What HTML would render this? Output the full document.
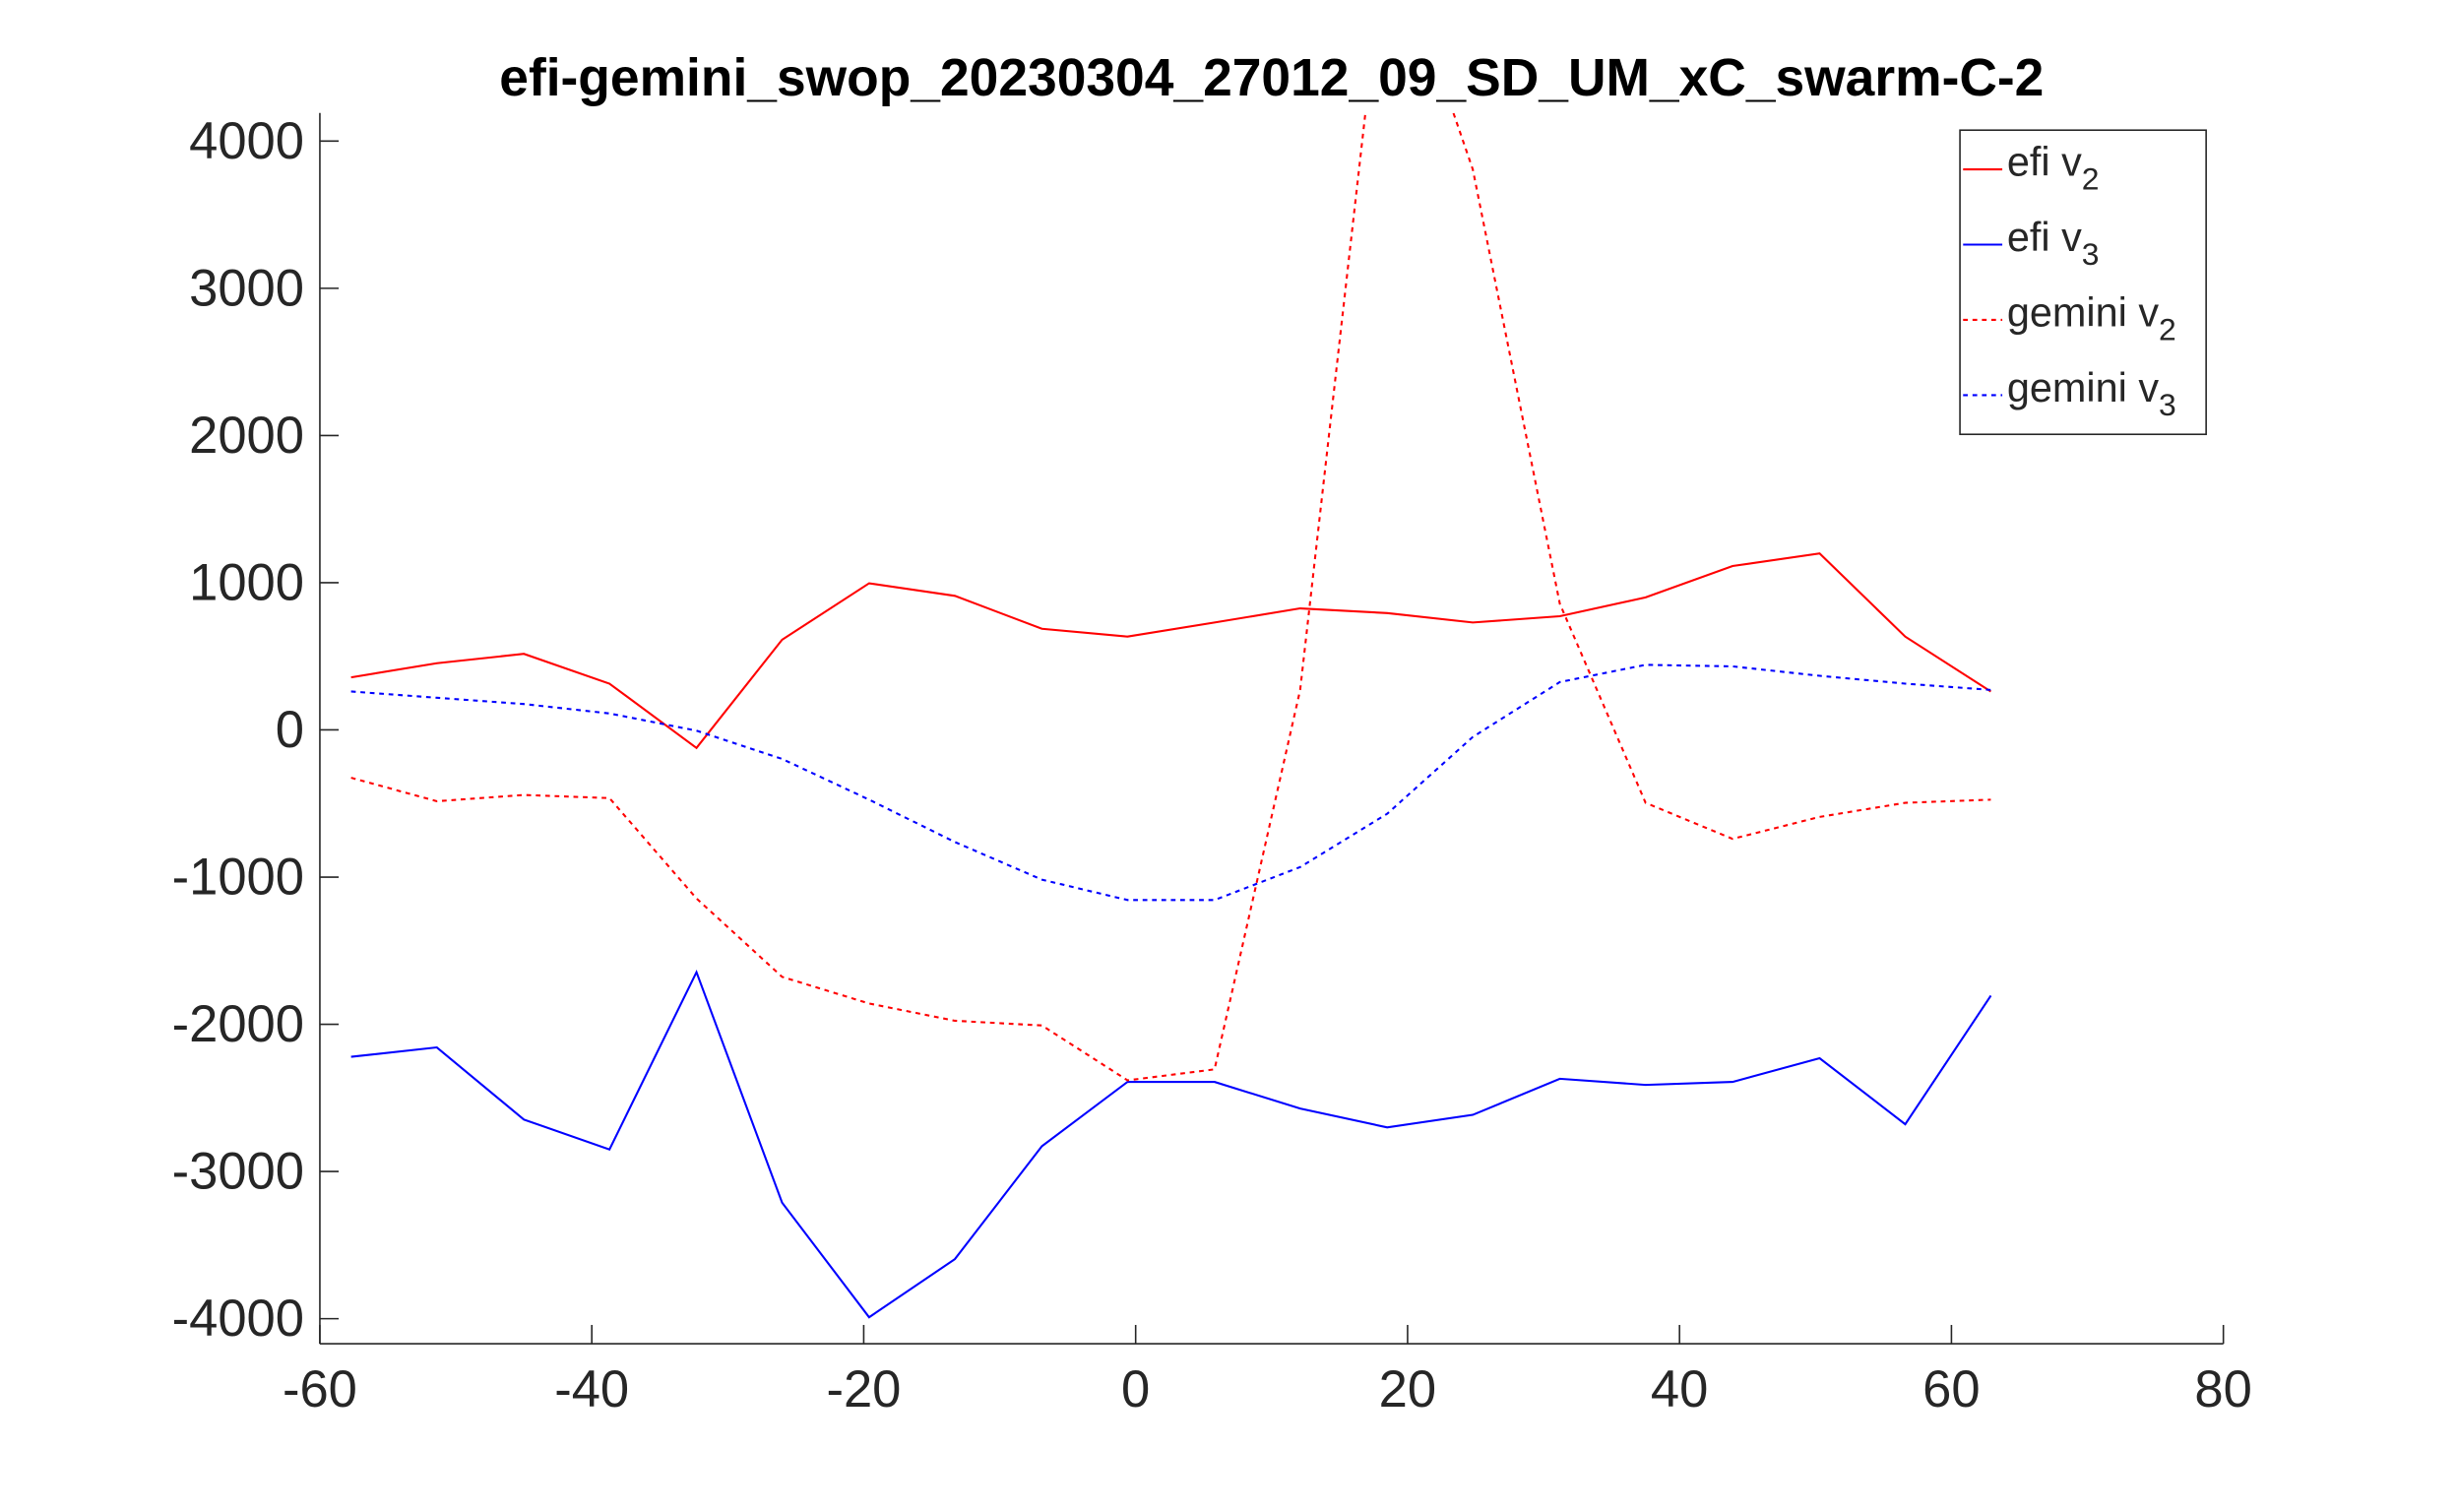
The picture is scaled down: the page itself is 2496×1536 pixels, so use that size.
<!DOCTYPE html>
<html><head><meta charset="utf-8"><style>
html,body{margin:0;padding:0;background:#fff;}
svg{display:block;}
text{font-family:"Liberation Sans",Arial,sans-serif;}
</style></head><body>
<svg id="chart" width="2496" height="1536" viewBox="0 0 1567 964.3" xmlns="http://www.w3.org/2000/svg">
<rect width="1567" height="964.3" fill="#fff"/>
<defs><clipPath id="plotclip"><rect x="204" y="72" width="1214" height="785"/></clipPath></defs>
<text x="811" y="61" text-anchor="middle" font-size="33.5" font-weight="bold" fill="#000">efi-gemini_swop_20230304_27012_09_SD_UM_xC_swarm-C-2</text>
<g id="axes"></g>
<g id="series" clip-path="url(#plotclip)"></g>
<g>
<rect x="1250" y="83" width="157" height="194" fill="#fff" stroke="#262626" stroke-width="1"/>
<line x1="1252" y1="108" x2="1277" y2="108" stroke="#f00" stroke-width="1.3"/>
<text x="1280" y="112" font-size="26" fill="#262626">efi v<tspan font-size="20" dy="9">2</tspan></text>
<line x1="1252" y1="156" x2="1277" y2="156" stroke="#00f" stroke-width="1.3"/>
<text x="1280" y="160" font-size="26" fill="#262626">efi v<tspan font-size="20" dy="9">3</tspan></text>
<line x1="1252" y1="204" x2="1277" y2="204" stroke="#f00" stroke-width="1.3" stroke-dasharray="3,3"/>
<text x="1280" y="208" font-size="26" fill="#262626">gemini v<tspan font-size="20" dy="9">2</tspan></text>
<line x1="1252" y1="252" x2="1277" y2="252" stroke="#00f" stroke-width="1.3" stroke-dasharray="3,3"/>
<text x="1280" y="256" font-size="26" fill="#262626">gemini v<tspan font-size="20" dy="9">3</tspan></text>
</g>
</svg>
<script>
const xValues = [-57.7,-51.4,-45.0,-38.7,-32.3,-26.0,-19.6,-13.3,-6.9,-0.6,5.8,12.1,18.5,24.8,31.2,37.5,43.9,50.3,56.6,62.9];
const efiV2 = [357,453,517,314,-122,612,996,911,687,634,730,826,794,730,772,900,1113,1198,634,261];
const efiV3 = [-2221,-2157,-2647,-2850,-1646,-3212,-3990,-3595,-2828,-2391,-2391,-2572,-2700,-2615,-2370,-2412,-2391,-2231,-2679,-1805];
const geminiV2 = [-325,-485,-442,-463,-1145,-1678,-1859,-1976,-2008,-2381,-2306,272,5500,3808,857,-495,-740,-591,-495,-474];
const geminiV3 = [261,218,176,112,-5,-197,-474,-762,-1017,-1156,-1156,-932,-570,-48,325,442,431,367,314,272];
const xTicks = [-60,-40,-20,0,20,40,60,80];
const yTicks = [-4000,-3000,-2000,-1000,0,1000,2000,3000,4000];

const NS = "http://www.w3.org/2000/svg";
const L = 204, R = 1418, T = 72, B = 857;
function xs(v){ return L + (v + 60) * (R - L) / 140; }
function ys(v){ return 465.5 - v * 0.09388; }
function mk(tag, attrs){ const e = document.createElementNS(NS, tag); for (const k in attrs) e.setAttribute(k, attrs[k]); return e; }

const axes = document.getElementById('axes');
const yAxis = mk('line', {x1:L, y1:T, x2:L, y2:B, stroke:'#262626', 'stroke-width':1});


axes.appendChild(yAxis);
const xAxis = mk('line', {x1:L, y1:B, x2:R, y2:B, stroke:'#262626', 'stroke-width':1});


axes.appendChild(xAxis);

xTicks.forEach(t => {
  const x = xs(t);
  axes.appendChild(mk('line', {x1:x, y1:B, x2:x, y2:B-12, stroke:'#262626', 'stroke-width':1}));
  const tx = mk('text', {x:x, y:B+40, 'text-anchor':'middle', 'font-size':33, fill:'#262626'});
  tx.textContent = t;
  
  
  axes.appendChild(tx);
});
yTicks.forEach(t => {
  const y = ys(t);
  axes.appendChild(mk('line', {x1:L, y1:y, x2:L+12, y2:y, stroke:'#262626', 'stroke-width':1}));
  const tx = mk('text', {x:L-10, y:y+11, 'text-anchor':'end', 'font-size':33, fill:'#262626'});
  tx.textContent = t;
  
  
  axes.appendChild(tx);
});

const seriesG = document.getElementById('series');
function drawLine(vals, color, dashed, name){
  const pts = vals.map((v,i) => xs(xValues[i]).toFixed(1) + ',' + ys(v).toFixed(1)).join(' ');
  const p = mk('polyline', {points:pts, fill:'none', stroke:color, 'stroke-width':1.3});
  if (dashed) p.setAttribute('stroke-dasharray', '3,3');
  
  
  seriesG.appendChild(p);
}
drawLine(efiV2, '#f00', false, 'efi-v2-line');
drawLine(efiV3, '#00f', false, 'efi-v3-line');
drawLine(geminiV2, '#f00', true, 'gemini-v2-line');
drawLine(geminiV3, '#00f', true, 'gemini-v3-line');
</script>
</body></html>
